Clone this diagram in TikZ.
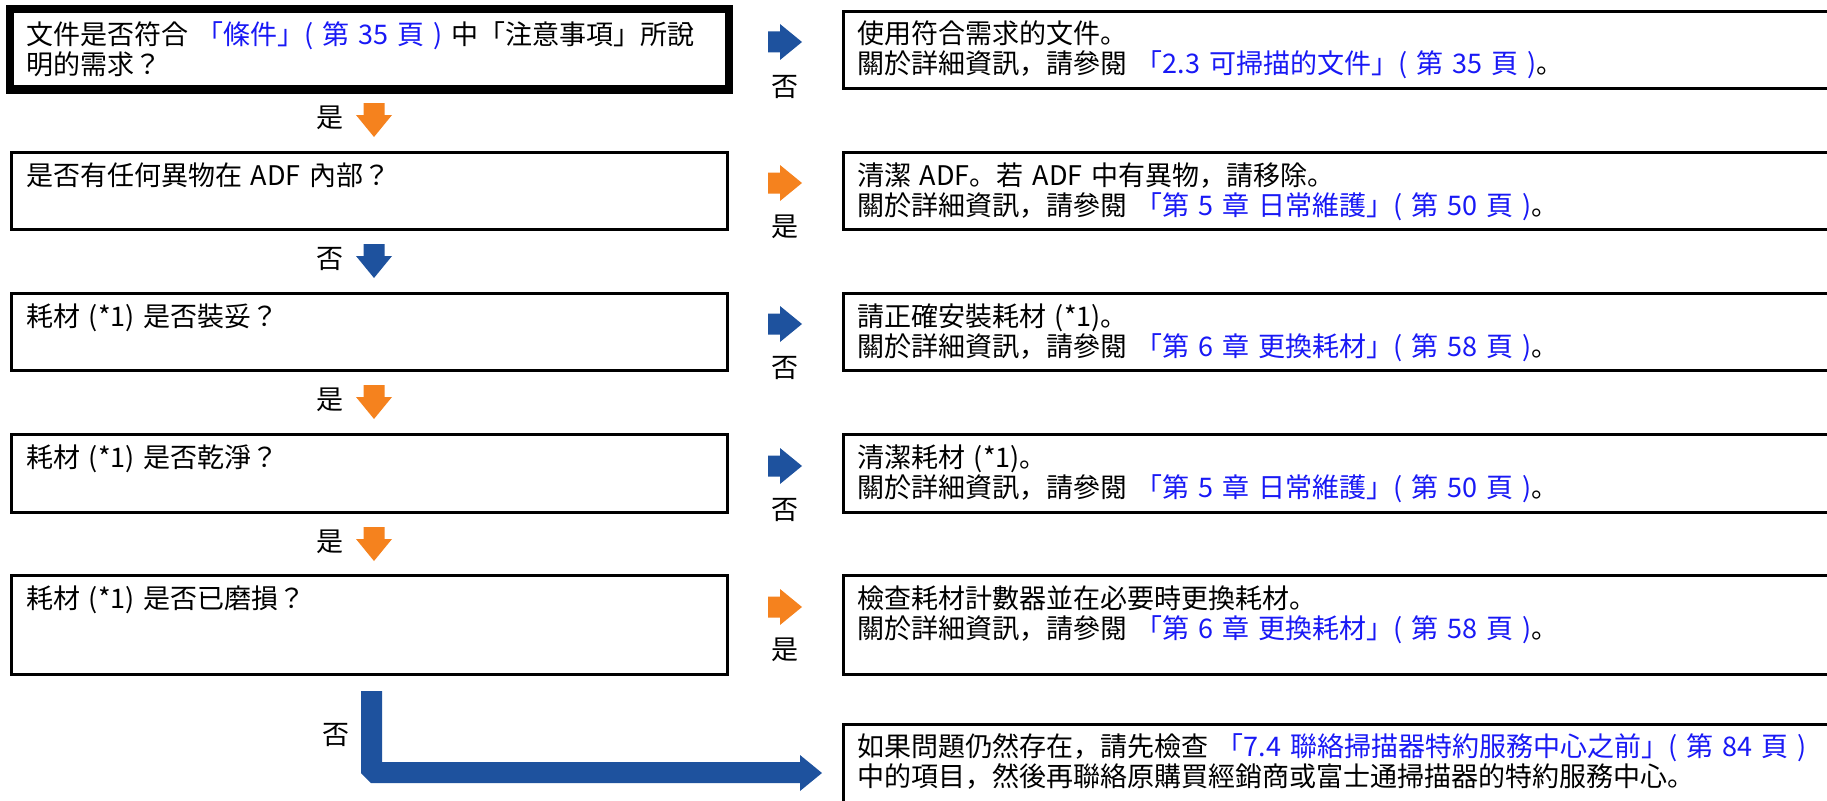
\documentclass[tikz,border=0pt]{standalone}
\usepackage{fontspec}
\setmainfont{Noto Sans CJK JP}
\usetikzlibrary{calc}
\definecolor{lnk}{RGB}{25,25,245}
\definecolor{abl}{RGB}{30,82,158}
\definecolor{aor}{RGB}{245,130,30}
\newcommand{\lk}[1]{\textcolor{lnk}{#1}}
\newcommand{\tx}[1]{\parbox[t]{1000pt}{\raggedright\fontsize{27pt}{30pt}\selectfont\spaceskip=0.33em\relax #1}}
\tikzset{
  qbox/.style={draw=black,line width=2.8pt,inner sep=0pt,outer sep=0pt,anchor=north west},
  thickbox/.style={draw=black,line width=8.5pt,inner sep=0pt,outer sep=0pt,anchor=north west},
  txt/.style={anchor=base west,inner sep=0pt,outer sep=0pt},
  lab/.style={inner sep=0pt,outer sep=0pt,font=\fontsize{27pt}{30pt}\selectfont},
  rarr/.pic={\fill[#1] (-17,-10.5) -- (-5,-10.5) -- (-5,-18) -- (17,0) -- (-5,18) -- (-5,10.5) -- (-17,10.5) -- cycle;},
  darr/.pic={\fill[#1] (-10.5,-17) -- (10.5,-17) -- (10.5,-5) -- (18,-5) -- (0,17) -- (-18,-5) -- (-10.5,-5) -- cycle;}
}
\begin{document}
\begin{tikzpicture}[x=1pt,y=-1pt]
\useasboundingbox (0,0) rectangle (1827,800);
\clip (0,0) rectangle (1827,800);
\fill[white] (0,0) rectangle (1827,800);

% left question boxes
\node[thickbox,minimum width=719pt,minimum height=80pt] (q1) at (10,9.25) {};
\node[qbox,minimum width=716.2pt,minimum height=77.2pt] (q2) at (11.4,152.4) {};
\node[qbox,minimum width=716.2pt,minimum height=77.2pt] (q3) at (11.4,293.4) {};
\node[qbox,minimum width=716.2pt,minimum height=78.2pt] (q4) at (11.4,434.4) {};
\node[qbox,minimum width=716.2pt,minimum height=99.2pt] (q5) at (11.4,575.4) {};

% right answer boxes
\node[qbox,minimum width=1000pt,minimum height=77.2pt] (r1) at (843.4,11.4) {};
\node[qbox,minimum width=1000pt,minimum height=77.2pt] (r2) at (843.4,152.4) {};
\node[qbox,minimum width=1000pt,minimum height=77.2pt] (r3) at (843.4,293.4) {};
\node[qbox,minimum width=1000pt,minimum height=78.2pt] (r4) at (843.4,434.4) {};
\node[qbox,minimum width=1000pt,minimum height=99.2pt] (r5) at (843.4,575.4) {};
\node[qbox,minimum width=1000pt,minimum height=120pt] (r6) at (843.4,724.4) {};

% texts of question boxes
\node[txt] (tq1) at (26,45) {\tx{文件是否符合 \lk{「條件」( 第 35 頁 )} 中「注意事項」所說\\明的需求？}};
\node[txt] (tq2) at (26,185) {\tx{是否有任何異物在 ADF 內部？}};
\node[txt] (tq3) at (26,326) {\tx{耗材 (*1) 是否裝妥？}};
\node[txt] (tq4) at (26,467) {\tx{耗材 (*1) 是否乾淨？}};
\node[txt] (tq5) at (26,608) {\tx{耗材 (*1) 是否已磨損？}};

% texts of answer boxes
\node[txt] (tr1) at (857,44) {\tx{使用符合需求的文件。\\關於詳細資訊，請參閱 \lk{「2.3 可掃描的文件」( 第 35 頁 )}。}};
\node[txt] (tr2) at (857,185) {\tx{清潔 ADF。若 ADF 中有異物，請移除。\\關於詳細資訊，請參閱 \lk{「第 5 章 日常維護」( 第 50 頁 )}。}};
\node[txt] (tr3) at (857,326) {\tx{請正確安裝耗材 (*1)。\\關於詳細資訊，請參閱 \lk{「第 6 章 更換耗材」( 第 58 頁 )}。}};
\node[txt] (tr4) at (857,467) {\tx{清潔耗材 (*1)。\\關於詳細資訊，請參閱 \lk{「第 5 章 日常維護」( 第 50 頁 )}。}};
\node[txt] (tr5) at (857,608) {\tx{檢查耗材計數器並在必要時更換耗材。\\關於詳細資訊，請參閱 \lk{「第 6 章 更換耗材」( 第 58 頁 )}。}};
\node[txt] (tr6) at (857,756) {\tx{如果問題仍然存在，請先檢查 \lk{「7.4 聯絡掃描器特約服務中心之前」( 第 84 頁 )}\\中的項目，然後再聯絡原購買經銷商或富士通掃描器的特約服務中心。}};

% right arrows with labels
\pic at (785,42) {rarr=abl};
\node[lab] (l1) at (785,87) {否};
\pic at (785,183) {rarr=aor};
\node[lab] (l2) at (785,227) {是};
\pic at (785,324) {rarr=abl};
\node[lab] (l3) at (785,368) {否};
\pic at (785,466) {rarr=abl};
\node[lab] (l4) at (785,510) {否};
\pic at (785,607) {rarr=aor};
\node[lab] (l5) at (785,650) {是};

% down arrows with labels
\pic at (374,120) {darr=aor};
\node[lab] (d1) at (330,118) {是};
\pic at (374,261) {darr=abl};
\node[lab] (d2) at (330,259) {否};
\pic at (374,402) {darr=aor};
\node[lab] (d3) at (330,400) {是};
\pic at (374,544) {darr=aor};
\node[lab] (d4) at (330,542) {是};

% final L-shaped arrow
\fill[abl] (361,691) -- (382,691) -- (382,762) -- (800,762) -- (800,755) -- (822,773)
  -- (800,791) -- (800,783) -- (371,783) -- (361,773) -- cycle;
\node[lab] (d5) at (336,735) {否};
\end{tikzpicture}
\end{document}
